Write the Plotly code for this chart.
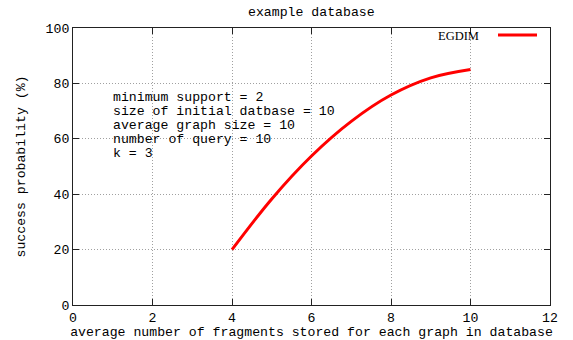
import plotly.graph_objects as go

x_vals = [4, 5, 6, 7, 8, 9, 10]
y_vals = [20, 38.3, 53.8, 66.3, 75.8, 82.0, 85]
series_name = "EGDIM"
title_text = "example database"
x_title = "average number of fragments stored for each graph in database"
y_title = "success probability (%)"
notes = ["minimum support = 2", "size of initial datbase = 10",
         "average graph size = 10", "number of query = 10", "k = 3"]

MONO = "Liberation Mono"
FS = 13.2
W, H = 573, 340
L, R, T, B = 73, 23, 28, 35
PW, PH = W - L - R, H - T - B

def px_x(p):
    return (p - L) / PW

def px_y(p):
    return (H - B - p) / PH

fig = go.Figure()
fig.add_trace(go.Scatter(x=x_vals, y=y_vals, mode="lines", name=series_name,
                         showlegend=False, hoverinfo="skip",
                         line=dict(color="#ff0000", width=3, shape="spline", smoothing=1)))

axis_common = dict(showline=True, linecolor="#222222", linewidth=1, mirror="ticks",
                   ticks="inside", ticklen=6, tickcolor="#222222",
                   showgrid=True, gridcolor="#a0a0a0", griddash="1px,2px", gridwidth=1,
                   zeroline=False, automargin=False,
                   tickfont=dict(family=MONO, size=FS, color="black"))
fig.update_xaxes(range=[0, 12], dtick=2, tick0=0,
                 title=dict(text=x_title, font=dict(family=MONO, size=FS, color="black"), standoff=6),
                 **axis_common)
fig.update_yaxes(range=[0, 100], dtick=20, tick0=0,
                 title=dict(text=y_title, font=dict(family=MONO, size=FS, color="black"), standoff=16),
                 **axis_common)

line_y = [97, 111.2, 125.3, 139.4, 153.5]
for txt, yc in zip(notes, line_y):
    fig.add_annotation(text=txt, xref="paper", yref="paper",
                       x=px_x(111), y=px_y(yc), xanchor="left", yanchor="middle",
                       align="left", showarrow=False,
                       font=dict(family=MONO, size=FS, color="black"))

# title
fig.add_annotation(text=title_text, xref="paper", yref="paper",
                   x=px_x(311), y=px_y(12), xanchor="center", yanchor="middle",
                   showarrow=False, font=dict(family=MONO, size=FS, color="black"))

# legend (text then sample line, gnuplot style)
fig.add_annotation(text=series_name, xref="paper", yref="paper",
                   x=px_x(481), y=px_y(36), xanchor="right", yanchor="middle",
                   showarrow=False, font=dict(family="Liberation Serif", size=12.5, color="black"))
fig.add_shape(type="line", xref="paper", yref="paper",
              x0=px_x(498), x1=px_x(537), y0=px_y(35), y1=px_y(35),
              line=dict(color="#ff0000", width=3))

fig.update_layout(
    width=W, height=H,
    margin=dict(l=L, r=R, t=T, b=B, autoexpand=False),
    paper_bgcolor="white", plot_bgcolor="white",
    showlegend=False, hovermode=False,
)
fig.write_html("out.html", config={"displayModeBar": False},
               post_script="document.body.style.margin='0';document.body.style.overflow='hidden';")
